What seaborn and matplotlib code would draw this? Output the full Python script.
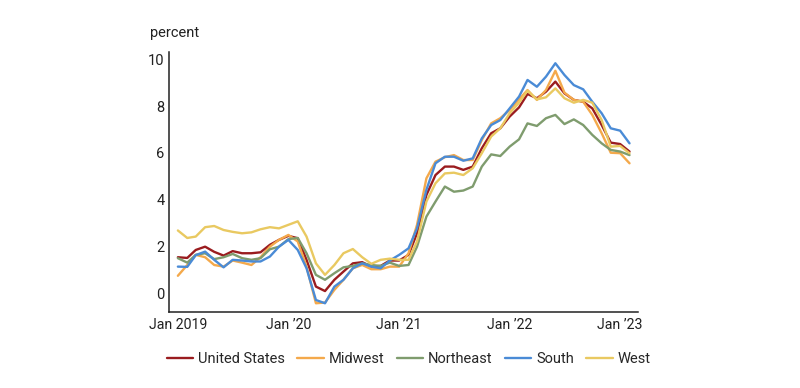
import numpy as np
import pandas as pd
import matplotlib
matplotlib.use("Agg")
import matplotlib.pyplot as plt
import seaborn as sns

# monthly, Jan 2019 - Feb 2023 (percent)
months = pd.date_range("2019-01-01", periods=50, freq="MS")

us = [1.56, 1.53, 1.87, 2.01, 1.79, 1.63, 1.82, 1.73, 1.73, 1.77, 2.09, 2.30,
      2.47, 2.37, 1.45, 0.31, 0.12, 0.60, 0.95, 1.30, 1.35, 1.16, 1.19, 1.42,
      1.42, 1.66, 2.58, 4.21, 5.06, 5.42, 5.42, 5.28, 5.42, 6.20, 6.84, 7.05,
      7.55, 7.94, 8.51, 8.33, 8.61, 9.04, 8.54, 8.26, 8.18, 7.90, 7.19, 6.44,
      6.38, 6.06]
midwest = [0.77, 1.23, 1.66, 1.56, 1.23, 1.16, 1.42, 1.33, 1.23, 1.56, 2.01, 2.30,
           2.51, 2.23, 1.16, -0.40, -0.37, 0.17, 0.60, 1.09, 1.23, 1.05, 1.05, 1.16,
           1.16, 1.73, 2.94, 4.92, 5.63, 5.82, 5.91, 5.70, 5.70, 6.55, 7.26, 7.48,
           7.83, 8.28, 8.68, 8.26, 8.68, 9.50, 8.57, 8.26, 8.18, 7.62, 6.84, 6.01,
           5.99, 5.56]
northeast = [1.52, 1.33, 1.66, 1.73, 1.48, 1.56, 1.70, 1.52, 1.45, 1.52, 1.90, 2.01,
             2.33, 2.38, 1.73, 0.81, 0.60, 0.88, 1.13, 1.19, 1.30, 1.23, 1.19, 1.33,
             1.19, 1.23, 2.01, 3.29, 3.93, 4.57, 4.35, 4.40, 4.57, 5.42, 5.94, 5.87,
             6.27, 6.58, 7.26, 7.15, 7.48, 7.62, 7.23, 7.43, 7.19, 6.77, 6.41, 6.13,
             6.06, 5.91]
south = [1.16, 1.15, 1.65, 1.80, 1.45, 1.13, 1.45, 1.42, 1.38, 1.38, 1.59, 2.01,
         2.30, 1.87, 1.09, -0.26, -0.40, 0.31, 0.60, 1.09, 1.30, 1.16, 1.09, 1.42,
         1.66, 1.94, 2.79, 4.43, 5.56, 5.84, 5.84, 5.67, 5.77, 6.62, 7.19, 7.40,
         7.90, 8.40, 9.11, 8.82, 9.25, 9.82, 9.32, 8.89, 8.71, 8.18, 7.69, 7.05,
         6.95, 6.41]
west = [2.70, 2.38, 2.44, 2.84, 2.89, 2.72, 2.64, 2.58, 2.62, 2.75, 2.84, 2.79,
        2.94, 3.09, 2.44, 1.30, 0.81, 1.23, 1.73, 1.91, 1.56, 1.28, 1.45, 1.50,
        1.45, 1.45, 2.23, 3.93, 4.71, 5.13, 5.16, 5.06, 5.35, 5.99, 6.70, 7.05,
        7.69, 8.14, 8.65, 8.28, 8.37, 8.75, 8.33, 8.14, 8.26, 8.14, 7.40, 6.27,
        6.30, 5.99]

regions = ["United States", "Midwest", "Northeast", "South", "West"]
colors = ["#9a1c1f", "#f4a94b", "#7f9c6e", "#4a8bd6", "#e9c961"]
tick_labels = ["Jan 2019", "Jan \u201920", "Jan \u201921", "Jan \u201922", "Jan \u201923"]

df = pd.DataFrame({"month": months, "United States": us, "Midwest": midwest,
                   "Northeast": northeast, "South": south, "West": west})
df = df.melt(id_vars="month", var_name="region", value_name="pct")

sns.set_theme(style="white")
plt.rcParams["font.family"] = ["Roboto", "DejaVu Sans"]

fig = plt.figure(figsize=(8, 3.88), dpi=100)
ax = fig.add_axes([0.211, 0.196, 0.5865, 0.67])

sns.lineplot(data=df, x="month", y="pct", hue="region", hue_order=regions,
             palette=dict(zip(regions, colors)), linewidth=1.7, ax=ax, legend=False)

ax.set_xlim(pd.Timestamp("2018-12-02"), pd.Timestamp("2023-03-01"))
ax.set_ylim(-0.77, 10.3)
ax.set_xticks(pd.to_datetime(["2019-01-01", "2020-01-01", "2021-01-01", "2022-01-01", "2023-01-01"]))
ax.set_xticklabels(tick_labels)
ax.set_yticks([0, 2, 4, 6, 8, 10])
ax.set_xlabel("")
ax.set_ylabel("")
for s in ["top", "right"]:
    ax.spines[s].set_visible(False)
for s in ["left", "bottom"]:
    ax.spines[s].set_color("#222222")
    ax.spines[s].set_linewidth(1.1)
ax.tick_params(axis="both", direction="in", length=6.5, width=1.1, color="#222222",
               labelsize=10.2, labelcolor="#222222", pad=4)
ax.tick_params(axis="y", labelsize=10.5, pad=3)
ax.grid(False)

fig.text(0.188, 0.905, "percent", fontsize=10.5, color="#222222")

handles = [plt.Line2D([], [], color=c, linewidth=1.7) for c in colors]
fig.legend(handles, regions, loc="center", bbox_to_anchor=(0.511, 0.075), ncol=5,
           frameon=False, fontsize=10.5, handlelength=1.8, columnspacing=0.85,
           handletextpad=0.35)

fig.savefig("out.png", dpi=100)
